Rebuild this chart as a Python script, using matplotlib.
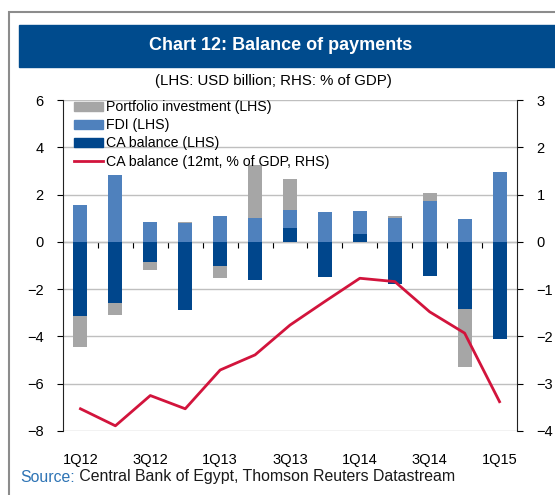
import numpy as np
import matplotlib
matplotlib.use("Agg")
import matplotlib.pyplot as plt
from matplotlib.patches import Rectangle
from matplotlib.lines import Line2D

plt.rcParams['font.family'] = ['Liberation Sans', 'DejaVu Sans']

# dados (USD bn e % do PIB)
quarters = ["1Q12", "2Q12", "3Q12", "4Q12", "1Q13", "2Q13", "3Q13",
            "4Q13", "1Q14", "2Q14", "3Q14", "4Q14", "1Q15"]
ca_balance = [-3.15, -2.6, -0.85, -2.9, -1.0, -1.62, 0.57,
              -1.48, 0.32, -1.8, -1.45, -2.86, -4.1]
fdi = [1.55, 2.83, 0.82, 0.78, 1.1, 0.99, 0.78,
       1.27, 0.98, 1.02, 1.72, 0.95, 2.97]
portfolio = [-1.28, -0.5, -0.35, 0.07, -0.53, 2.26, 1.29,
             0.0, 0.0, 0.07, 0.36, -2.42, 0.0]
ca_gdp = [-3.53, -3.89, -3.25, -3.53, -2.71, -2.39, -1.76,
          -1.26, -0.77, -0.84, -1.48, -1.93, -3.38]

c_port = "#A6A6A6"
c_fdi = "#4F81BD"
c_ca = "#00468C"
c_line = "#D2143C"
c_title = "#004B8D"

x = np.arange(len(quarters))
ca = np.array(ca_balance)
fd = np.array(fdi)
pf = np.array(portfolio)

# empilhamento: positivos para cima, negativos para baixo
pos_base = np.zeros(len(x))
neg_base = np.zeros(len(x))

fig = plt.figure(figsize=(5.55, 4.95), dpi=100)
ax = fig.add_axes([63/555, 1-431/495, 454/555, 331/495])

w = 0.4
ca_pos = np.where(ca > 0, ca, 0)
ca_neg = np.where(ca < 0, ca, 0)
ax.bar(x, ca_pos, w, bottom=pos_base, color=c_ca)
pos_base = pos_base + ca_pos
ax.bar(x, ca_neg, w, bottom=neg_base, color=c_ca)
neg_base = neg_base + ca_neg
ax.bar(x, fd, w, bottom=pos_base, color=c_fdi)
pos_base = pos_base + fd
pf_pos = np.where(pf > 0, pf, 0)
pf_neg = np.where(pf < 0, pf, 0)
ax.bar(x, pf_pos, w, bottom=pos_base, color=c_port)
ax.bar(x, pf_neg, w, bottom=neg_base, color=c_port)

ax.set_xlim(-0.5, len(x) - 0.5)
ax.set_ylim(-8, 6)
ax.set_yticks(np.arange(-8, 7, 2))
ax.yaxis.grid(True, color="#BFBFBF", lw=1)
ax.set_axisbelow(True)
for s in ["top", "bottom", "right"]:
    ax.spines[s].set_visible(False)
ax.spines["left"].set_color("#222222")
ax.tick_params(axis="y", direction="out", length=4, labelsize=10.5, pad=10)
ax.set_xticks(x[::2])
ax.set_xticklabels(quarters[::2], fontsize=10.5)
ax.tick_params(axis="x", length=0, pad=16)

# linha do zero com marcas entre trimestres
y0 = (0 - (-8)) / 14
sec = ax.secondary_xaxis(y0)
sec.set_xticks(x[:-1] + 0.5)
sec.set_xticklabels([])
sec.tick_params(direction="in", length=4, color="black")
sec.spines["bottom"].set_color("black")

ax2 = ax.twinx()
ax2.plot(x, ca_gdp, color=c_line, lw=2)
ax2.set_ylim(-4, 3)
ax2.set_yticks(np.arange(-4, 4, 1))
for s in ["top", "bottom", "left"]:
    ax2.spines[s].set_visible(False)
ax2.spines["right"].set_color("#222222")
ax2.tick_params(axis="y", direction="out", length=4, labelsize=10.5, pad=10)

handles = [Rectangle((0, 0), 1, 1, color=c_port),
           Rectangle((0, 0), 1, 1, color=c_fdi),
           Rectangle((0, 0), 1, 1, color=c_ca),
           Line2D([], [], color=c_line, lw=2)]
labels = ["Portfolio investment (LHS)", "FDI (LHS)", "CA balance (LHS)",
          "CA balance (12mt, % of GDP, RHS)"]
ax2.legend(handles, labels, loc="upper left", bbox_to_anchor=(0.025, 1.0),
           frameon=False, fontsize=10.2, handlelength=2.0, handleheight=0.6,
           labelspacing=0.3, handletextpad=0.2, borderpad=0, borderaxespad=0)

# moldura e faixa do título
fig.patches.append(Rectangle((9/555, -0.1), 1.1, 1 - 12/495 + 0.1,
                             transform=fig.transFigure, fill=False,
                             edgecolor="#8C8C8C", lw=1.5))
fig.patches.append(Rectangle((19/555, 1 - 67/495), 1, 42/495,
                             transform=fig.transFigure, color=c_title))
fig.text(281/555, 1 - 46/495, "Chart 12: Balance of payments", color="white",
         fontsize=13, fontweight="bold", ha="center", va="center")
fig.text(273/555, 1 - 81/495, "(LHS: USD billion; RHS: % of GDP)",
         fontsize=10.8, ha="center", va="center")
src = fig.text(20/555, 1 - 477/495, "Source:", color="#2E74B5", fontsize=11.4,
               ha="left", va="center")
fig.text(0, 0, "")
plt.annotate(" Central Bank of Egypt, Thomson Reuters Datastream",
             xy=(1, 0.5), xycoords=src, va="center", ha="left",
             fontsize=11.4, color="#1A1A1A", annotation_clip=False)

fig.savefig("out.png", dpi=100)
